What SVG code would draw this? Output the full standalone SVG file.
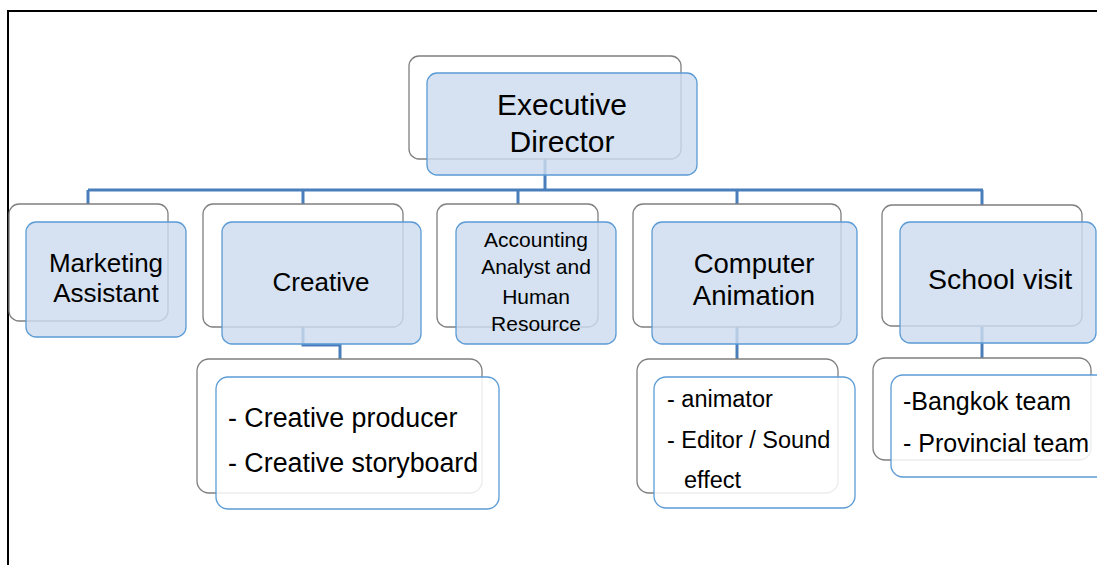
<svg xmlns="http://www.w3.org/2000/svg" width="1097" height="565" viewBox="0 0 1097 565">
<style>
.back{fill:#fff;stroke:#7f7f7f;stroke-width:1.3}
.front{fill:#cddcee;fill-opacity:0.82;stroke:#5b9bd5;stroke-width:1.3}
.child{fill:#fff;fill-opacity:0.85;stroke:#5b9bd5;stroke-width:1.3}
.conn{fill:none;stroke:#4a7ebb;stroke-width:3}
text{font-family:"Liberation Sans",Arial,sans-serif;fill:#000}
.c{text-anchor:middle}
</style>
<rect width="1097" height="565" fill="#fff"/>
<g id="frame">
<line x1="7" y1="11" x2="1097" y2="11" stroke="#000" stroke-width="2"/>
<line x1="8" y1="10" x2="8" y2="565" stroke="#000" stroke-width="2"/>
</g>
<g id="connectors">
<path class="conn" d="M545 159 V190 M88 190 H983 M88 190 V205 M303 190 V205 M518 190 V205 M737 190 V205 M982 190 V205"/>
<path class="conn" d="M303 327 V345 H340 V359"/>
<path class="conn" d="M737 327 V359"/>
<path class="conn" d="M982 327 V358"/>
</g>
<g id="executive">
<rect class="back" x="409" y="56" width="272" height="103" rx="10"/>
<rect class="front" x="427" y="73" width="270" height="102" rx="10"/>
<text class="c" x="562" y="115" font-size="30">Executive</text>
<text class="c" x="562" y="152" font-size="30">Director</text>
</g>
<g id="marketing">
<rect class="back" x="9" y="204" width="159" height="117" rx="10"/>
<rect class="front" x="26" y="222" width="160" height="115" rx="10"/>
<text class="c" x="106" y="272" font-size="26">Marketing</text>
<text class="c" x="106" y="302" font-size="26">Assistant</text>
</g>
<g id="creative">
<rect class="back" x="203" y="204" width="200" height="123" rx="10"/>
<rect class="front" x="222" y="222" width="199" height="122" rx="10"/>
<text class="c" x="321" y="291" font-size="26">Creative</text>
</g>
<g id="accounting">
<rect class="back" x="437" y="204" width="161" height="123" rx="10"/>
<rect class="front" x="456" y="222" width="160" height="122" rx="10"/>
<text class="c" x="536" y="247" font-size="21">Accounting</text>
<text class="c" x="536" y="274" font-size="21">Analyst and</text>
<text class="c" x="536" y="304" font-size="21">Human</text>
<text class="c" x="536" y="331" font-size="21">Resource</text>
</g>
<g id="computer">
<rect class="back" x="633" y="204" width="208" height="123" rx="10"/>
<rect class="front" x="652" y="222" width="205" height="122" rx="10"/>
<text class="c" x="754" y="273" font-size="27.5">Computer</text>
<text class="c" x="754" y="305" font-size="27.5">Animation</text>
</g>
<g id="school">
<rect class="back" x="882" y="205" width="200" height="121" rx="10"/>
<rect class="front" x="900" y="222" width="196" height="121" rx="10"/>
<text class="c" x="1000" y="289" font-size="28.5">School visit</text>
</g>
<g id="creative-sub">
<rect class="back" x="197" y="359" width="285" height="134" rx="12"/>
<rect class="child" x="216" y="377" width="283" height="132" rx="12"/>
<text x="228" y="427" font-size="26.8">- Creative producer</text>
<text x="228" y="472" font-size="26.8">- Creative storyboard</text>
</g>
<g id="computer-sub">
<rect class="back" x="637" y="359" width="201" height="134" rx="12"/>
<rect class="child" x="654" y="377" width="201" height="131" rx="12"/>
<text x="667" y="407" font-size="23.5">- animator</text>
<text x="667" y="448" font-size="23.5">- Editor / Sound</text>
<text x="684" y="488" font-size="23.5">effect</text>
</g>
<g id="school-sub">
<rect class="back" x="873" y="358" width="218" height="102" rx="12"/>
<rect class="child" x="891" y="375" width="220" height="102" rx="12"/>
<text x="903" y="410" font-size="25">-Bangkok team</text>
<text x="903" y="452" font-size="25">- Provincial team</text>
</g>
</svg>
